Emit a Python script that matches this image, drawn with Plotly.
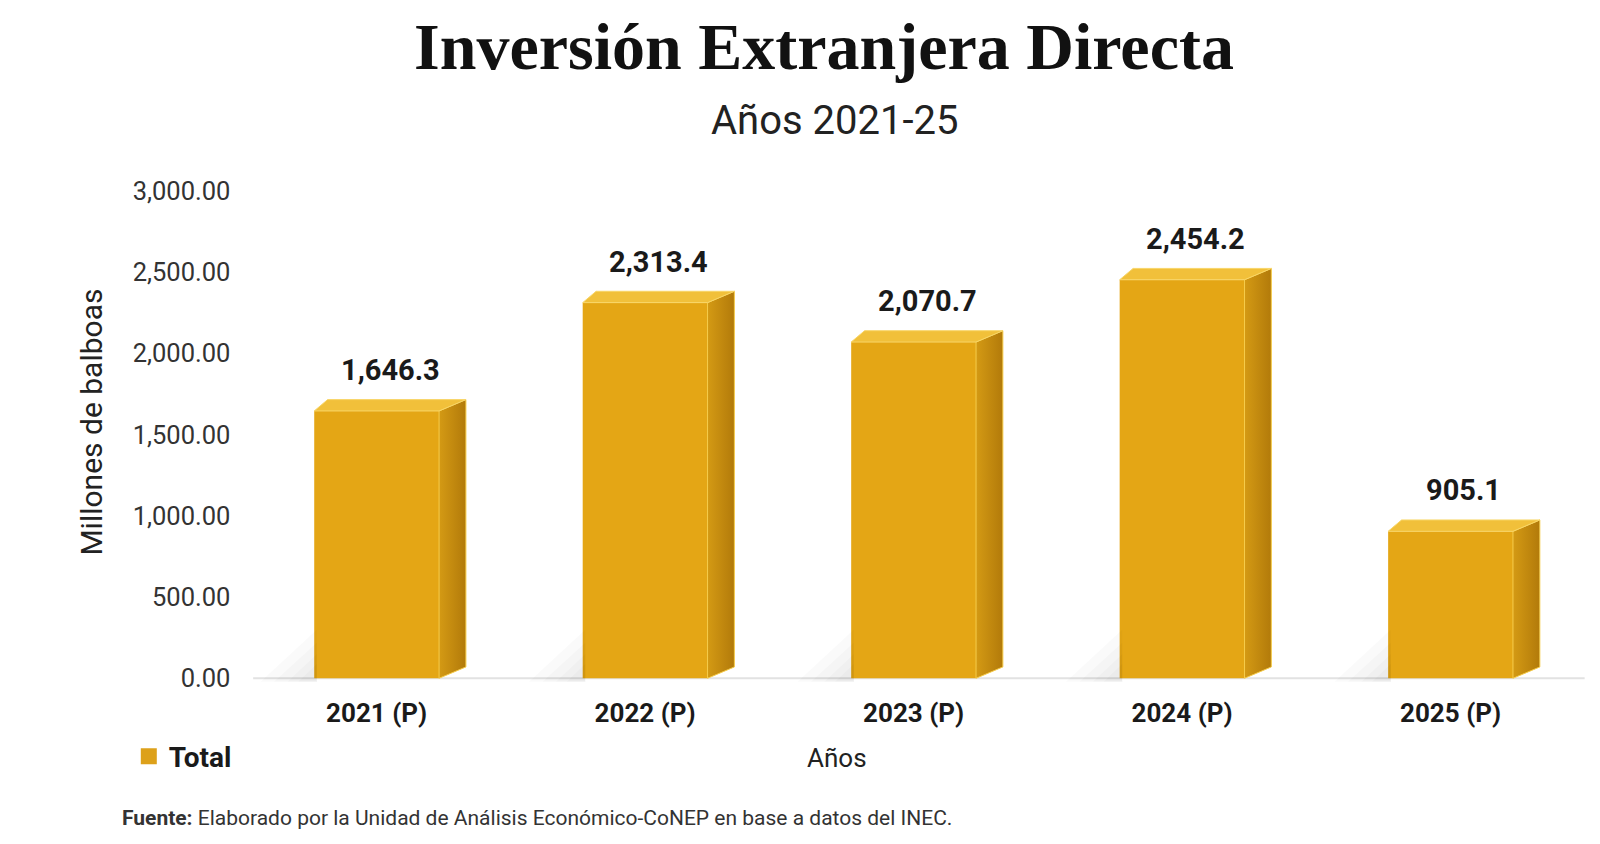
import plotly.graph_objects as go

# datos
anios = ["2021 (P)", "2022 (P)", "2023 (P)", "2024 (P)", "2025 (P)"]
valores = [1646.3, 2313.4, 2070.7, 2454.2, 905.1]
ticks_y = [0, 500, 1000, 1500, 2000, 2500, 3000]

# forma de la barra 3D (unidades de eje)
ancho = 0.465
dx = 0.1
dy = 70

oro = "#E4A615"
oro_tapa = "#F1C03A"

xs = list(range(len(anios)))

fig = go.Figure()

# sombras suaves a la izquierda (varias capas)
for extra, alto in [(0.2, 300), (0.15, 220), (0.1, 150), (0.06, 90)]:
    sx, sy = [], []
    for i, v in zip(xs, valores):
        xl = i - ancho / 2
        sx += [xl - extra, xl + 0.01, xl + 0.01, None]
        sy += [-22, -22, alto, None]
    fig.add_trace(go.Scatter(x=sx, y=sy, fill="toself", mode="none",
                             fillcolor="rgba(0,0,0,0.02)",
                             showlegend=False, hoverinfo="skip"))

# cara frontal
fig.add_trace(go.Bar(x=xs, y=valores, width=ancho, marker_color=oro,
                     marker_line_width=0, showlegend=False, hoverinfo="skip"))

# caras laterales (una por barra para el degradado)
for i, v in zip(xs, valores):
    xr = i + ancho / 2
    fig.add_trace(go.Scatter(
        x=[xr, xr + dx, xr + dx, xr, xr], y=[0, dy, v + dy, v, 0],
        fill="toself", mode="lines", line=dict(color="#F5CB4A", width=1),
        fillgradient=dict(type="horizontal",
                          colorscale=[[0, "#D49A14"], [1, "#B27A0A"]]),
        showlegend=False, hoverinfo="skip"))

# tapas
tx, ty = [], []
for i, v in zip(xs, valores):
    xl = i - ancho / 2
    xr = i + ancho / 2
    tx += [xl, xr, xr + dx, xl + dx * 0.5, xl, None]
    ty += [v, v, v + dy, v + dy, v, None]
fig.add_trace(go.Scatter(x=tx, y=ty, fill="toself", mode="lines",
                         line=dict(color="#F8D668", width=1), fillcolor=oro_tapa,
                         showlegend=False, hoverinfo="skip"))

# leyenda
fig.add_trace(go.Scatter(x=[None], y=[None], mode="markers", name="Total",
                         marker=dict(symbol="square", size=22, color="#DDA11A")))

# etiquetas de valor
for i, v in zip(xs, valores):
    fig.add_annotation(x=i + dx / 2, y=v, text="<b>%s</b>" % format(v, ",.1f"),
                       showarrow=False, yshift=41, yanchor="middle",
                       font=dict(family="Roboto", size=29, color="#1a1a1a"))

fig.add_shape(type="line", xref="x", yref="y", x0=-0.46, x1=4.5, y0=0, y1=0,
              line=dict(color="#E2E2E2", width=2), layer="below")

fig.add_annotation(x=0.510, y=0.954, xref="paper", yref="paper", yanchor="middle",
                   text="<b>Inversión Extranjera Directa</b>", showarrow=False,
                   font=dict(family="Liberation Serif", size=66, color="#111111"))
fig.add_annotation(x=0.517, y=0.867, xref="paper", yref="paper", yanchor="middle",
                   text="Años 2021-25", showarrow=False,
                   font=dict(family="Roboto", size=40, color="#222222"))
fig.add_annotation(x=0.052, y=0.509, xref="paper", yref="paper", textangle=-90,
                   xanchor="center", yanchor="middle",
                   text="Millones de balboas", showarrow=False,
                   font=dict(family="Roboto", size=30, color="#222222"))
fig.add_annotation(x=0.518, y=0.111, xref="paper", yref="paper", yanchor="middle",
                   text="Años", showarrow=False,
                   font=dict(family="Roboto", size=26, color="#222222"))
fig.add_annotation(x=0.070, y=0.04, xref="paper", yref="paper", xanchor="left",
                   yanchor="middle",
                   text="<b>Fuente:</b> Elaborado por la Unidad de Análisis Económico-CoNEP en base a datos del INEC.",
                   showarrow=False, font=dict(family="Roboto", size=21, color="#333333"))

fig.update_layout(
    width=1600, height=844,
    margin=dict(l=0, r=0, t=0, b=0, autoexpand=False),
    paper_bgcolor="white", plot_bgcolor="white",
    xaxis=dict(domain=[0.1465, 0.9855], range=[-0.5, 4.5], tickvals=xs,
               ticktext=["<b>%s</b>" % a for a in anios], showgrid=False,
               zeroline=False, showline=False, ticks="", automargin=False,
               ticklabelstandoff=13,
               tickfont=dict(family="Roboto", size=26, color="#1a1a1a")),
    yaxis=dict(domain=[0.201, 0.783], range=[-25, 3000], tickvals=ticks_y,
               tickformat=",.2f", showgrid=False, zeroline=False, showline=False,
               ticklabelstandoff=11, automargin=False,
               tickfont=dict(family="Roboto", size=25.5, color="#333333")),
    legend=dict(x=0.0755, y=0.113, xanchor="left", yanchor="middle",
                font=dict(family="Roboto", size=28, color="#1a1a1a", weight="bold"),
                bgcolor="rgba(0,0,0,0)", itemsizing="trace"),
    showlegend=True,
)

fig.write_html("out.html")
